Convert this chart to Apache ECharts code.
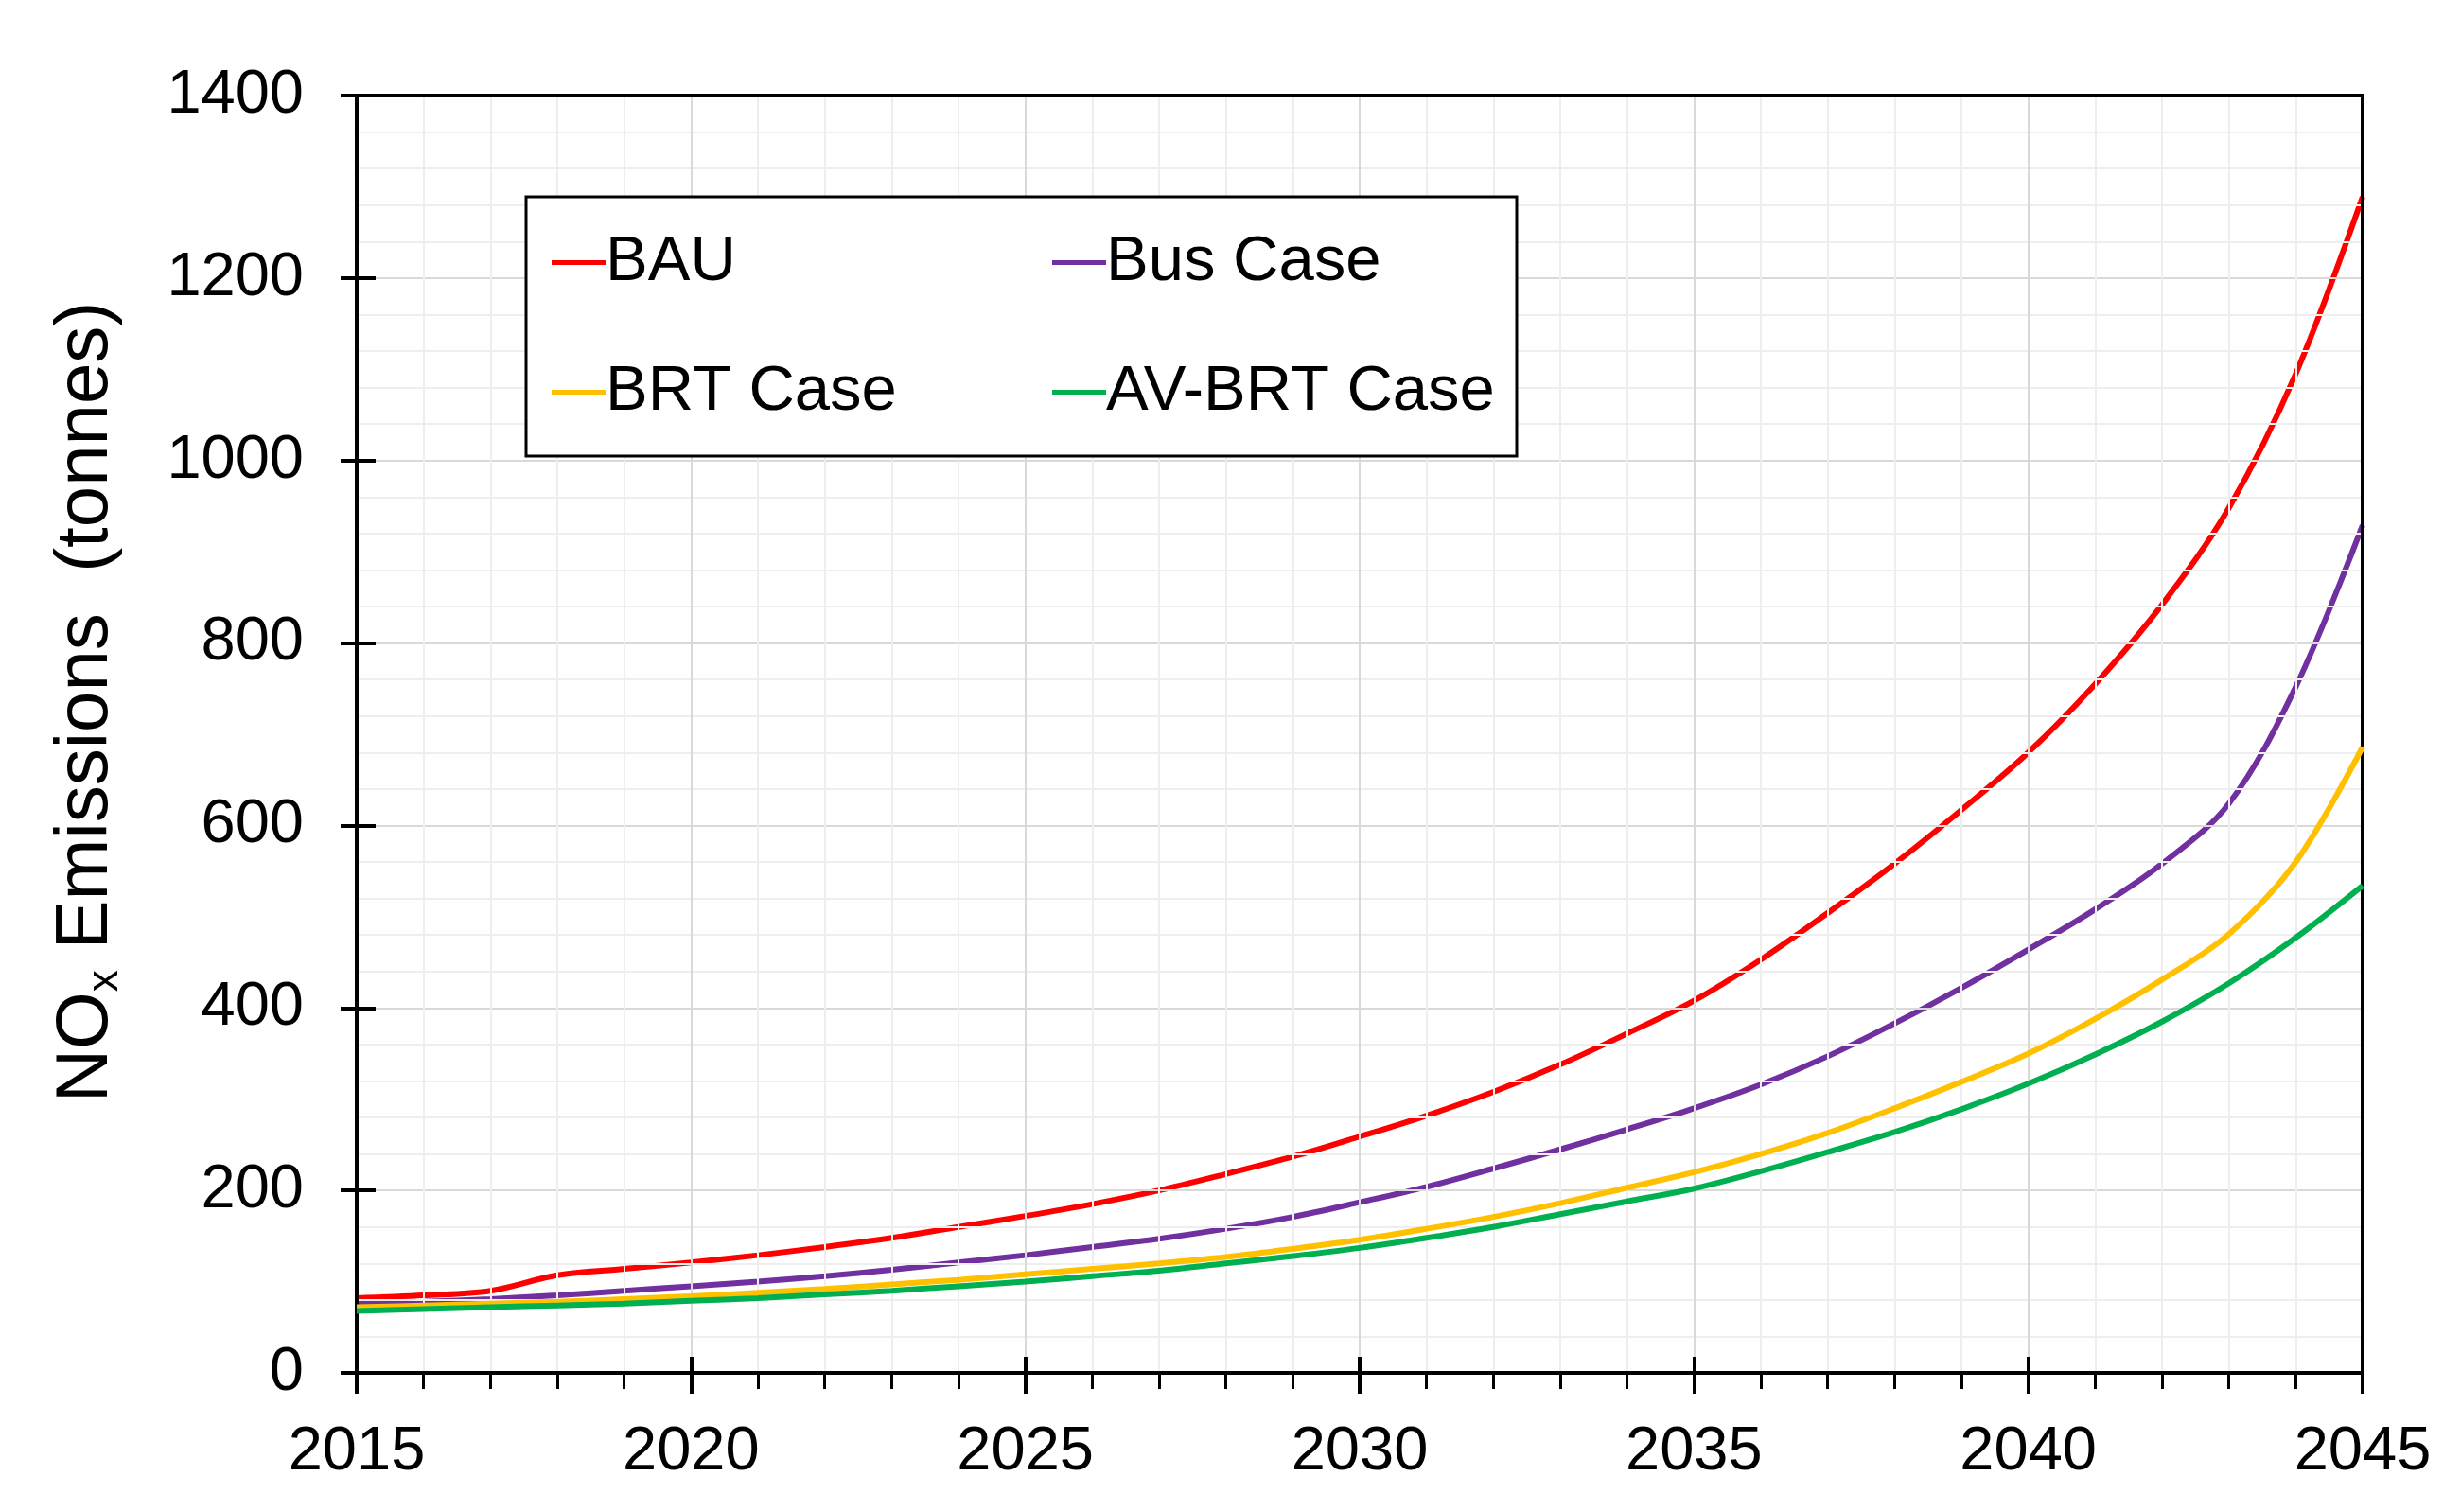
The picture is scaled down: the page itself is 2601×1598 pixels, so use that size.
<!DOCTYPE html>
<html>
<head>
<meta charset="utf-8">
<script src="https://cdn.jsdelivr.net/npm/echarts@6/dist/echarts.min.js"></script>
<style>
html,body{margin:0;padding:0;background:#fff;}
#chart{width:2601px;height:1598px;}
</style>
</head>
<body>
<div id="chart"></div>
<script>
const years = [2015,2016,2017,2018,2019,2020,2021,2022,2023,2024,2025,2026,2027,2028,2029,2030,2031,2032,2033,2034,2035,2036,2037,2038,2039,2040,2041,2042,2043,2044,2045];
const bau    = [82,85,90,107,114,121,129,138,148,160,172,185,200,218,237,259,282,308,338,372,408,453,504,558,617,680,755,842,948,1095,1289];
const bus    = [76,78,81,85,90,95,100,106,113,121,129,138,147,158,171,187,204,224,245,267,290,316,347,383,422,464,508,558,624,752,929];
const brt    = [72,74,76,78,81,84,88,92,97,102,108,114,120,127,136,146,158,171,186,203,220,240,263,290,319,350,388,431,481,560,686];
const avbrt  = [68,70,72,74,76,79,82,86,90,95,100,106,112,120,128,137,148,160,174,188,202,221,242,264,289,317,349,385,427,477,534];
const yTicks = [0,200,400,600,800,1000,1200,1400];
const seriesNames = ['BAU','Bus Case','BRT Case','AV-BRT Case'];
const seriesColors = ['#FF0000','#7030A0','#FFC000','#00B050'];
const seriesValues = [bau, bus, brt, avbrt];

const FONT = '"Liberation Sans", Arial, sans-serif';
const chart = echarts.init(document.getElementById('chart'));

const series = seriesNames.map((n, i) => ({
  name: n,
  type: 'line',
  xAxisIndex: 0,
  yAxisIndex: 0,
  data: years.map((y, k) => [y, seriesValues[i][k]]),
  smooth: 0.35,
  showSymbol: false,
  symbol: 'none',
  lineStyle: { color: seriesColors[i], width: 6 },
  itemStyle: { color: seriesColors[i] },
  z: 3 + i
}));

const yMin = yTicks[0], yMax = yTicks[yTicks.length - 1], yStep = yTicks[1] - yTicks[0];

chart.setOption({
  animation: false,
  backgroundColor: '#fff',
  grid: {
    left: 377, right: 104, top: 101, bottom: 147,
    show: false
  },
  legend: {
    data: seriesNames,
    left: 556, top: 208,
    width: 1030,
    orient: 'horizontal',
    icon: 'rect',
    itemWidth: 57, itemHeight: 5,
    itemGap: 52,
    padding: [27, 14, 25, 27],
    borderColor: '#000', borderWidth: 3,
    backgroundColor: '#fff',
    textStyle: { fontFamily: FONT, fontSize: 67, color: '#000', width: 420, lineHeight: 85, padding: [0,0,0,-5] },
    z: 10
  },
  xAxis: [{
    type: 'value', min: years[0], max: years[years.length-1], interval: 5, position: 'bottom',
    axisLine: { show: true, onZero: false, lineStyle: { color: '#000', width: 4 } },
    axisTick: { show: true, inside: false, length: 22, lineStyle: { color: '#000', width: 4 } },
    minorTick: { show: true, splitNumber: 5, length: 17, lineStyle: { color: '#000', width: 3 } },
    axisLabel: { fontFamily: FONT, fontSize: 65, color: '#000', margin: 52, formatter: v => String(v) },
    splitLine: { show: true, lineStyle: { color: '#d9d9d9', width: 2 } },
    minorSplitLine: { show: true, lineStyle: { color: '#eeeeee', width: 2 } },
    z: 5
  }, {
    type: 'value', min: years[0], max: years[years.length-1], interval: 5, position: 'bottom',
    axisLine: { show: false },
    axisTick: { show: true, inside: true, length: 17, lineStyle: { color: '#000', width: 4 } },
    axisLabel: { show: false },
    splitLine: { show: false },
    z: 5
  }, {
    type: 'value', min: years[0], max: years[years.length-1], interval: 5, position: 'top',
    axisLine: { show: true, onZero: false, lineStyle: { color: '#000', width: 4 } },
    axisTick: { show: false },
    axisLabel: { show: false },
    splitLine: { show: false },
    z: 5
  }],
  yAxis: [{
    type: 'value', min: yMin, max: yMax, interval: yStep, position: 'left',
    axisLine: { show: true, onZero: false, lineStyle: { color: '#000', width: 4 } },
    axisTick: { show: true, inside: false, length: 17, lineStyle: { color: '#000', width: 4 } },
    axisLabel: { fontFamily: FONT, fontSize: 65, color: '#000', margin: 56, formatter: v => String(v) },
    splitLine: { show: true, lineStyle: { color: '#d9d9d9', width: 2 } },
    minorSplitLine: { show: true, lineStyle: { color: '#eeeeee', width: 2 } },
    z: 5
  }, {
    type: 'value', min: yMin, max: yMax, interval: yStep, position: 'left',
    axisLine: { show: false },
    axisTick: { show: true, inside: true, length: 20, lineStyle: { color: '#000', width: 4 } },
    axisLabel: { show: false },
    splitLine: { show: false },
    z: 5
  }, {
    type: 'value', min: yMin, max: yMax, interval: yStep, position: 'right',
    axisLine: { show: true, onZero: false, lineStyle: { color: '#000', width: 4 } },
    axisTick: { show: false },
    axisLabel: { show: false },
    splitLine: { show: false },
    z: 5
  }],
  graphic: [{
    type: 'text',
    x: 91, y: 742,
    rotation: Math.PI / 2,
    style: {
      text: '{n|NO}{s|x}{n| Emissions  (tonnes)}',
      align: 'center', verticalAlign: 'middle',
      fill: '#000',
      rich: {
        n: { fontFamily: FONT, fontSize: 78, fill: '#000', lineHeight: 90 },
        s: { fontFamily: FONT, fontSize: 46, fill: '#000', lineHeight: 90, padding: [40, 0, 0, 0] }
      }
    },
    z: 10
  }],
  series: series
});
</script>
</body>
</html>
